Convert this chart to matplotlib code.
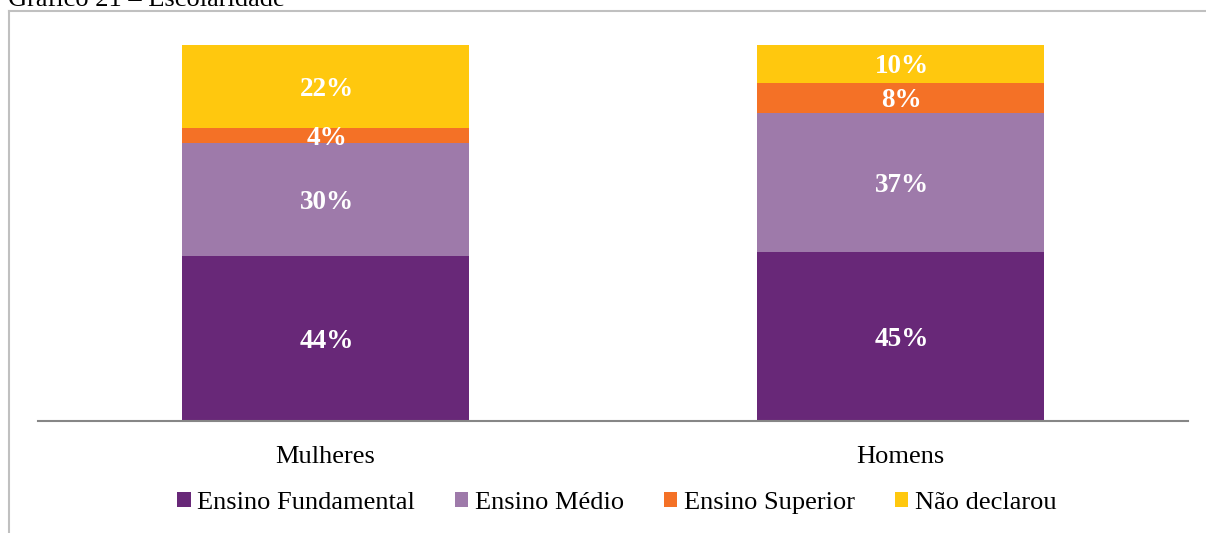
import matplotlib
matplotlib.use("Agg")
import matplotlib.pyplot as plt
from matplotlib.patches import Patch
from matplotlib.lines import Line2D
import numpy as np

categories = ["Mulheres", "Homens"]
series_names = ["Ensino Fundamental", "Ensino Médio", "Ensino Superior", "Não declarou"]
fundamental = [44, 45]
medio = [30, 37]
superior = [4, 8]
nao_declarou = [22, 10]
colors = ["#682878", "#9E7AAA", "#F47126", "#FFC80E"]

plt.rcParams['font.family'] = ['Liberation Serif', 'DejaVu Serif']

W, H = 1206, 533
fig = plt.figure(figsize=(W / 100, H / 100), dpi=100)
ax = fig.add_axes([38 / W, 1 - 421 / H, (1188 - 38) / W, (421 - 45) / H])

x = np.arange(len(categories))
bottom = np.zeros(len(categories))
for vals, name, col in zip([fundamental, medio, superior, nao_declarou], series_names, colors):
    vals = np.array(vals, dtype=float)
    ax.bar(x, vals, width=0.5, bottom=bottom, color=col, label=name)
    for xi, b, v in zip(x, bottom, vals):
        ax.text(xi + 0.002, b + v / 2, f"{int(v)}%", ha='center', va='center_baseline',
                color='white', fontsize=19.5, fontweight='bold')
    bottom += vals

ax.set_xlim(-0.5, 1.5)
ax.set_ylim(0, 100)
ax.set_yticks([])
ax.set_xticks(x)
ax.set_xticklabels(categories, fontsize=19)
ax.tick_params(axis='x', length=0, pad=18)
for s in ['top', 'left', 'right']:
    ax.spines[s].set_visible(False)
ax.spines['bottom'].set_color('#868686')
ax.spines['bottom'].set_linewidth(1.5)

handles = [Patch(facecolor=c, edgecolor='none') for c in colors]
fig.legend(handles, series_names, loc='center', bbox_to_anchor=(617 / W, 1 - 503 / H),
           ncol=4, frameon=False, fontsize=19, handlelength=0.5, handleheight=0.5,
           handletextpad=0.25, columnspacing=1.52, borderpad=0)

# outer frame (gray border)
fig.add_artist(Line2D([9 / W, 9 / W], [0, 1 - 11 / H], transform=fig.transFigure,
                      color='#C0C0C0', linewidth=1.5))
fig.add_artist(Line2D([9 / W, 1], [1 - 11 / H, 1 - 11 / H], transform=fig.transFigure,
                      color='#C0C0C0', linewidth=1.5))

fig.text(8 / W, 1 - 6 / H, "Gráfico 21 – Escolaridade", fontsize=19, va='baseline', ha='left')

fig.savefig("out.png", dpi=100)
